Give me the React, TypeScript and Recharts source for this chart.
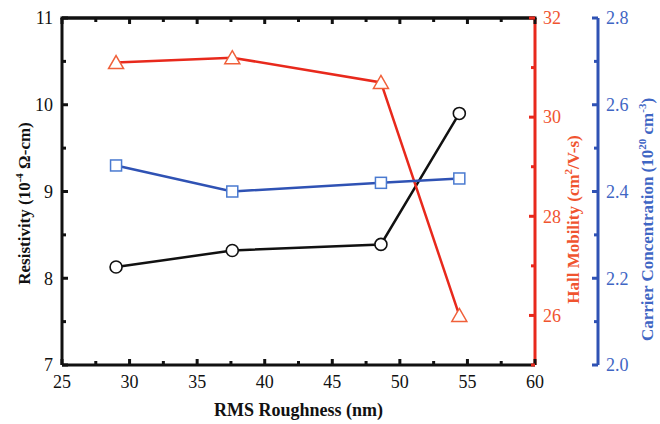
import React from 'react';
import { LineChart, Line, XAxis, YAxis, ReferenceLine } from 'recharts';

const roughness = [29.0, 37.6, 48.6, 54.4];
const resistivity = [8.13, 8.32, 8.39, 9.9];
const mobility = [31.1, 31.2, 30.7, 26.0];
const carrier = [2.46, 2.4, 2.42, 2.43];

const xTicks = [25, 27.5, 30, 32.5, 35, 37.5, 40, 42.5, 45, 47.5, 50, 52.5, 55, 57.5, 60];
const xMajor = [25, 30, 35, 40, 45, 50, 55, 60];
const resTicks = [7, 7.5, 8, 8.5, 9, 9.5, 10, 10.5, 11];
const resMajor = [7, 8, 9, 10, 11];
const mobTicks = [25, 26, 27, 28, 29, 30, 31, 32];
const mobMajor = [26, 28, 30, 32];
const carTicks = [2.0, 2.1, 2.2, 2.3, 2.4, 2.5, 2.6, 2.7, 2.8];
const carMajor = [2.0, 2.2, 2.4, 2.6, 2.8];

const data = roughness.map((x, i) => ({ x, res: resistivity[i], mob: mobility[i], car: carrier[i] }));

const FONT = '"Liberation Serif", "Times New Roman", serif';
const TOP = 18;
const W = 660;
const LEFT_W = 62;
const MOB_W = 63;
const CAR_W = 62;
const PLOT_W = W - LEFT_W - MOB_W - CAR_W;
const BLACK = '#111';
const RED = '#e8291c';
const RED_TXT = '#f0542f';
const BLUE = '#2f52b4';
const BLUE_TXT = '#3f66c4';

const isMajor = (v: number, list: number[]) => list.some(m => Math.abs(m - v) < 1e-6);

// side: where the axis is; dir: +1/-1 direction of tick line
function makeTick(side: string, majors: number[], color: string, txt: string, fmt: (v: number) => string, dir: number, frameAt?: number) {
  return (props: any) => {
    const { x, y, payload } = props;
    const v = payload.value;
    const major = isMajor(v, majors);
    const len = major ? 6 : 4;
    if (side === 'bottom') {
      return (
        <g>
          <rect x={x - 1.5} y={y - len} width={3} height={len} fill={color} />
          {/* matching tick on the top frame */}
          <rect x={x - 1.5} y={TOP} width={3} height={len} fill={color} />
          {major && (
            <text x={x} y={y + 23} textAnchor="middle" fontFamily={FONT} fontSize={18} fill={txt}>{fmt(v)}</text>
          )}
        </g>
      );
    }
    return (
      <g>
        {frameAt !== undefined && Math.abs(v - frameAt) < 1e-6 && (
          <rect x={x - 1.5} y={y - 1.5} width={PLOT_W + 3} height={3} fill={BLACK} />
        )}
        <rect x={dir > 0 ? x : x - len} y={y - 1.5} width={len} height={3} fill={color} />
        {major && (
          <text
            x={side === 'left' ? x - 9 : x + 8}
            y={y}
            dy="0.35em"
            textAnchor={side === 'left' ? 'end' : 'start'}
            fontFamily={FONT}
            fontSize={18}
            fill={txt}
          >
            {fmt(v)}
          </text>
        )}
      </g>
    );
  };
}

const Circle = (p: any) => (
  <circle cx={p.cx} cy={p.cy} r={6} fill="#fff" stroke={BLACK} strokeWidth={1.6} />
);
const Triangle = (p: any) => (
  <path
    d={`M${p.cx},${p.cy - 7} L${p.cx + 7.5},${p.cy + 6} L${p.cx - 7.5},${p.cy + 6} Z`}
    fill="#fff"
    stroke="#f0603a"
    strokeWidth={1.5}
  />
);
const Square = (p: any) => (
  <rect x={p.cx - 5.5} y={p.cy - 5.5} width={11} height={11} fill="#fff" stroke="#4a7ad0" strokeWidth={1.5} />
);

export default function App() {
  return (
    <div style={{ position: 'absolute', left: 0, top: 0, width: W, height: 424, background: '#fff' }}>
      <LineChart width={W} height={424} data={data} margin={{ top: TOP, right: 0, bottom: 0, left: 0 }}>
        <XAxis
          xAxisId="b"
          dataKey="x"
          type="number"
          domain={[25, 60]}
          ticks={xTicks}
          interval={0}
          height={59}
          tickSize={0}
          tickMargin={0}
          tickLine={false}
          axisLine={{ stroke: BLACK, strokeWidth: 3 }}
          tick={makeTick('bottom', xMajor, BLACK, BLACK, v => String(v), -1)}
          label={{
            content: (p: any) => {
              const vb = p.viewBox;
              return (
                <text x={vb.x + vb.width / 2} y={vb.y + 51} textAnchor="middle" fontFamily={FONT} fontSize={18} fontWeight="bold" fill={BLACK}>
                  RMS Roughness (nm)
                </text>
              );
            },
          }}
        />
        <YAxis
          yAxisId="res"
          domain={[7, 11]}
          ticks={resTicks}
          interval={0}
          width={LEFT_W}
          tickSize={0}
          tickMargin={0}
          tickLine={false}
          axisLine={{ stroke: BLACK, strokeWidth: 3 }}
          tick={makeTick('left', resMajor, BLACK, BLACK, v => String(v), 1, 11)}
          label={{
            content: (p: any) => {
              const vb = p.viewBox;
              const cx = 24;
              const cy = vb.y + vb.height / 2 + 12;
              return (
                <text transform={`translate(${cx},${cy}) rotate(-90)`} textAnchor="middle" dy="0.35em" fontFamily={FONT} fontSize={17} fontWeight="bold" fill={BLACK}>
                  Resistivity (10<tspan dy={-7} fontSize={11}>-4</tspan><tspan dy={7}> Ω-cm)</tspan>
                </text>
              );
            },
          }}
        />
        <YAxis
          yAxisId="r1"
          orientation="right"
          domain={[25, 32]}
          ticks={mobTicks}
          interval={0}
          width={MOB_W}
          tickSize={0}
          tickMargin={0}
          tickLine={false}
          axisLine={{ stroke: RED, strokeWidth: 3 }}
          tick={makeTick('right', mobMajor, RED, RED_TXT, v => String(v), -1)}
          label={{
            content: (p: any) => {
              const vb = p.viewBox;
              const cx = vb.x + 38;
              const cy = vb.y + vb.height / 2 + 28;
              return (
                <text transform={`translate(${cx},${cy}) rotate(-90)`} textAnchor="middle" dy="0.35em" fontFamily={FONT} fontSize={17} fontWeight="bold" fill={RED_TXT}>
                  Hall Mobility (cm<tspan dy={-7} fontSize={11}>2</tspan><tspan dy={7}>/V-s)</tspan>
                </text>
              );
            },
          }}
        />
        <YAxis
          yAxisId="r2"
          orientation="right"
          domain={[2.0, 2.8]}
          ticks={carTicks}
          interval={0}
          width={CAR_W}
          tickSize={0}
          tickMargin={0}
          tickLine={false}
          axisLine={{ stroke: BLUE, strokeWidth: 3 }}
          tick={makeTick('right', carMajor, BLUE, BLUE_TXT, v => v.toFixed(1), -1)}
          label={{
            content: (p: any) => {
              const vb = p.viewBox;
              const cx = vb.x + 49;
              const cy = vb.y + vb.height / 2 + 28;
              return (
                <text transform={`translate(${cx},${cy}) rotate(-90)`} textAnchor="middle" dy="0.35em" fontFamily={FONT} fontSize={17} fontWeight="bold" fill={BLUE_TXT}>
                  Carrier Concentration (10<tspan dy={-7} fontSize={11}>20</tspan><tspan dy={7}> cm</tspan><tspan dy={-7} fontSize={11}>-3</tspan><tspan dy={7}>)</tspan>
                </text>
              );
            },
          }}
        />
        {/* top frame line */}
        <ReferenceLine xAxisId="b" yAxisId="res" y={11} stroke={BLACK} strokeWidth={3} ifOverflow="extendDomain" />
        <Line xAxisId="b" yAxisId="res" dataKey="res" stroke={BLACK} strokeWidth={2.5} dot={Circle} isAnimationActive={false} />
        <Line xAxisId="b" yAxisId="r1" dataKey="mob" stroke={RED} strokeWidth={2.5} dot={Triangle} isAnimationActive={false} />
        <Line xAxisId="b" yAxisId="r2" dataKey="car" stroke={BLUE} strokeWidth={2.5} dot={Square} isAnimationActive={false} />
      </LineChart>
    </div>
  );
}
